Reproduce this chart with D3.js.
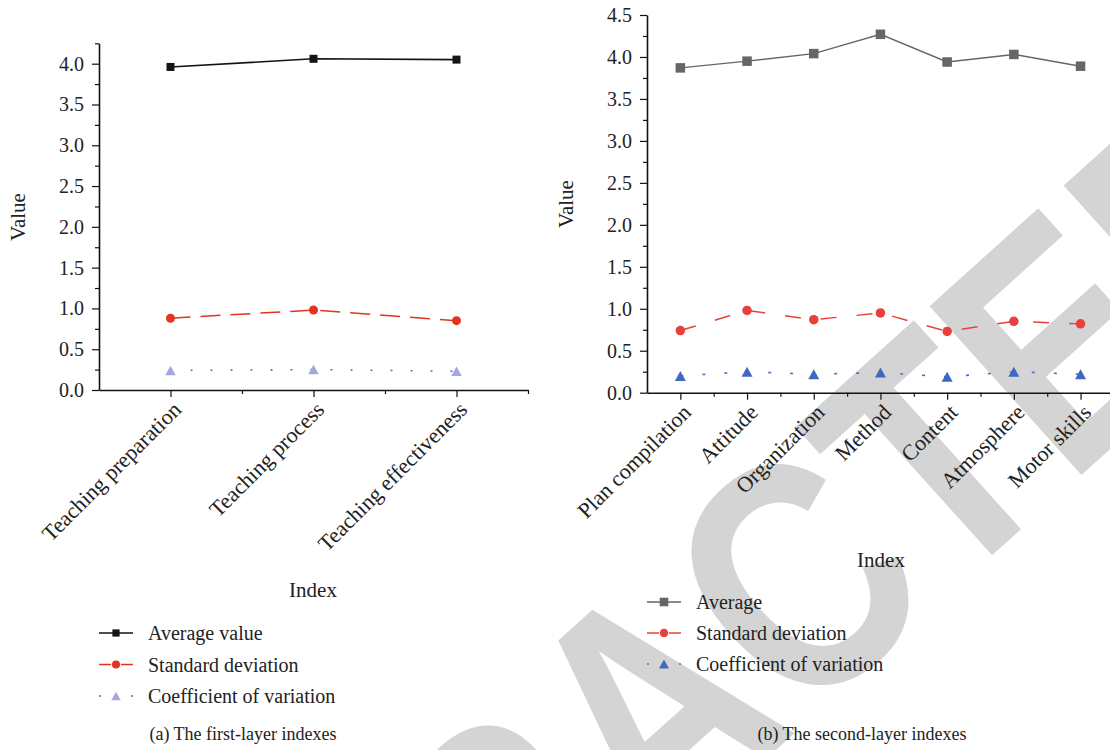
<!DOCTYPE html>
<html>
<head>
<meta charset="utf-8">
<script src="https://cdn.jsdelivr.net/npm/d3@7"></script>
<style>
  body { margin: 0; background: #fff; }
  svg { display: block; }
  text { font-family: "Liberation Serif", "Times New Roman", serif; fill: #222; }
</style>
</head>
<body>
<svg id="fig" width="1110" height="750"></svg>
<script>
// ---- data: first-layer indexes ----
const firstLayerIndexes = ["Teaching preparation", "Teaching process", "Teaching effectiveness"];
const firstAverage = [3.96, 4.06, 4.05];
const firstStdDev = [0.88, 0.98, 0.85];
const firstCoefVar = [0.24, 0.25, 0.23];
const firstValueTicks = [0, 0.5, 1.0, 1.5, 2.0, 2.5, 3.0, 3.5, 4.0];

// ---- data: second-layer indexes ----
const secondLayerIndexes = ["Plan compilation", "Attitude", "Organization", "Method", "Content", "Atmosphere", "Motor skills"];
const secondAverage = [3.87, 3.95, 4.04, 4.27, 3.94, 4.03, 3.89];
const secondStdDev = [0.74, 0.98, 0.87, 0.95, 0.73, 0.85, 0.82];
const secondCoefVar = [0.20, 0.25, 0.22, 0.24, 0.19, 0.25, 0.22];
const secondValueTicks = [0, 0.5, 1.0, 1.5, 2.0, 2.5, 3.0, 3.5, 4.0, 4.5];

const svg = d3.select("#fig");

// ---- diagonal stamp across the sheet ----
(function stamp() {
  const fontSize = 330, angle = -42, squeeze = 0.82;
  const g = svg.append("g")
    .attr("transform", `translate(1068,487) rotate(${angle}) scale(${squeeze},1)`);
  const t = g.append("text")
    .text("RETRACTED")
    .style("font-family", "'Liberation Sans', Arial, sans-serif")
    .style("font-weight", "bold")
    .style("font-size", fontSize + "px")
    .style("fill", "#d4d4d4");
  // put the baseline origin of the second "E" at the group origin
  const lead = t.node().getSubStringLength(0, 7);
  t.attr("x", -lead);
})();

// ---- marker shapes ----
function drawMarker(sel, kind, size, fill) {
  if (kind === "square") {
    sel.append("rect").attr("x", -size / 2).attr("y", -size / 2)
      .attr("width", size).attr("height", size).attr("fill", fill);
  } else if (kind === "circle") {
    sel.append("circle").attr("r", size / 2).attr("fill", fill);
  } else {
    const w = size * 1.1, h = size;
    sel.append("path").attr("d", `M0,${-h / 2}L${w / 2},${h / 2}L${-w / 2},${h / 2}Z`).attr("fill", fill);
  }
}

function panel(cfg) {
  const n = cfg.cats.length;
  const x = d3.scaleLinear().domain([0.5, n + 0.5]).range([cfg.left, cfg.left + n * cfg.step]);
  const y = d3.scaleLinear().domain([0, cfg.yMax]).range([cfg.bottom, cfg.top]);
  const g = svg.append("g");

  // y axis: major and minor ticks
  const minorY = d3.range(0.25, cfg.yMax + 0.001, 0.5);
  g.append("g").attr("transform", `translate(${cfg.left},0)`)
    .call(d3.axisLeft(y).tickValues(minorY).tickSize(4).tickSizeOuter(0).tickFormat(""))
    .call(a => a.select(".domain").remove());
  const yAx = g.append("g").attr("transform", `translate(${cfg.left},0)`)
    .call(d3.axisLeft(y).tickValues(cfg.ticks).tickSize(7).tickPadding(8).tickSizeOuter(0).tickFormat(d3.format(".1f")));
  yAx.selectAll("text").style("font-size", "20px").style("font-family", "'Liberation Serif', serif").attr("fill", "#222");

  // x axis: ticks at categories and minor ticks between them
  const minorX = d3.range(1.5, n + 0.6, 1);
  g.append("g").attr("transform", `translate(0,${cfg.bottom})`)
    .call(d3.axisBottom(x).tickValues(minorX).tickSize(4).tickSizeOuter(0).tickFormat(""))
    .call(a => a.select(".domain").remove());
  g.append("g").attr("transform", `translate(0,${cfg.bottom})`)
    .call(d3.axisBottom(x).tickValues(d3.range(1, n + 1)).tickSize(7).tickSizeOuter(0).tickFormat(""));

  g.selectAll(".domain").attr("stroke", "#111").attr("stroke-width", 1.6);
  g.selectAll(".tick line").attr("stroke", "#111").attr("stroke-width", 1.2);

  // slanted category labels
  g.selectAll("text.cat").data(cfg.cats).join("text")
    .attr("class", "cat")
    .attr("text-anchor", "end")
    .attr("transform", (d, i) => `translate(${x(i + 1) + 12},${cfg.bottom + 21}) rotate(-45)`)
    .style("font-size", "22px")
    .text(d => d);

  // axis titles
  g.append("text").attr("text-anchor", "middle")
    .attr("transform", `translate(${cfg.valueTitle[0]},${cfg.valueTitle[1]}) rotate(-90)`)
    .style("font-size", "21px").text("Value");
  g.append("text").attr("text-anchor", "middle")
    .attr("x", cfg.indexTitle[0]).attr("y", cfg.indexTitle[1])
    .style("font-size", "21px").text("Index");

  // series lines and markers
  cfg.series.forEach(s => {
    const line = d3.line().x((d, i) => x(i + 1)).y(d => y(d));
    g.append("path").datum(s.values).attr("d", line)
      .attr("fill", "none").attr("stroke", s.stroke).attr("stroke-width", s.width)
      .attr("stroke-dasharray", s.dash);
  });
  cfg.series.forEach(s => {
    g.selectAll(null).data(s.values).join("g")
      .attr("transform", (d, i) => `translate(${x(i + 1)},${y(d)})`)
      .each(function () { drawMarker(d3.select(this), s.marker, s.size, s.fill); });
  });

  // legend
  cfg.series.forEach((s, k) => {
    const ly = cfg.legend[1] + k * cfg.legendGap;
    const lx = cfg.legend[0];
    g.append("line").attr("x1", lx).attr("x2", lx + 34).attr("y1", ly).attr("y2", ly)
      .attr("stroke", s.stroke).attr("stroke-width", s.width)
      .attr("stroke-dasharray", s.legendDash);
    const m = g.append("g").attr("transform", `translate(${lx + 17},${ly})`);
    drawMarker(m, s.marker, s.size * 0.9, s.fill);
    g.append("text").attr("x", lx + 49).attr("y", ly + 7)
      .style("font-size", "20px").text(s.name);
  });

  g.append("text").attr("text-anchor", "middle")
    .attr("x", cfg.caption[0]).attr("y", cfg.caption[1])
    .style("font-size", "18px").text(cfg.captionText);
}

panel({
  cats: firstLayerIndexes, left: 99, step: 143, top: 43.3, bottom: 390, yMax: 4.25,
  ticks: firstValueTicks, valueTitle: [25, 217], indexTitle: [313, 597],
  legend: [99, 633], legendGap: 31.5, caption: [243, 740],
  captionText: "(a) The first-layer indexes",
  series: [
    { name: "Average value", values: firstAverage, stroke: "#141414", width: 1.6, dash: null, legendDash: null, marker: "square", size: 8, fill: "#141414" },
    { name: "Standard deviation", values: firstStdDev, stroke: "#e4341f", width: 1.5, dash: "20,10", legendDash: "12,10", marker: "circle", size: 9, fill: "#e4341f" },
    { name: "Coefficient of variation", values: firstCoefVar, stroke: "#4d6fd2", width: 1.6, dash: "2,18", legendDash: "2,30", marker: "triangle", size: 9.5, fill: "#a5a8de" }
  ]
});

panel({
  cats: secondLayerIndexes, left: 647, step: 66.7, top: 15, bottom: 392.7, yMax: 4.5,
  ticks: secondValueTicks, valueTitle: [573, 204], indexTitle: [881, 567],
  legend: [647, 602], legendGap: 31, caption: [862, 740],
  captionText: "(b) The second-layer indexes",
  series: [
    { name: "Average", values: secondAverage, stroke: "#666666", width: 1.4, dash: null, legendDash: null, marker: "square", size: 9.5, fill: "#666666" },
    { name: "Standard deviation", values: secondStdDev, stroke: "#e8413b", width: 1.5, dash: "16,20", legendDash: "12,10", marker: "circle", size: 9.5, fill: "#e8413b" },
    { name: "Coefficient of variation", values: secondCoefVar, stroke: "#4a70cf", width: 1.6, dash: "3,19", legendDash: "2,30", marker: "triangle", size: 10, fill: "#4068bf" }
  ]
});
</script>
</body>
</html>
